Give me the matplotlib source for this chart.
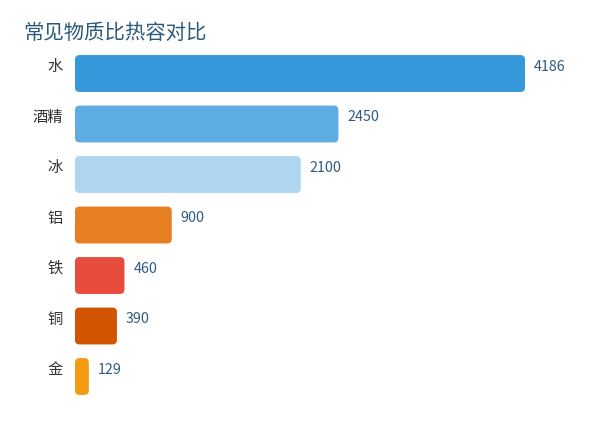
import matplotlib
matplotlib.use("Agg")
import matplotlib.pyplot as plt
from matplotlib.patches import FancyBboxPatch

plt.rcParams['font.family'] = ['Noto Sans CJK SC', 'DejaVu Sans']

# data
materials = ["水", "酒精", "冰", "铝", "铁", "铜", "金"]
heat_capacity = [4186, 2450, 2100, 900, 460, 390, 129]
bar_colors = ["#3498db", "#5dade2", "#aed6f1", "#e67e22", "#e74c3c", "#d35400", "#f39c12"]

W, H = 600, 448
fig = plt.figure(figsize=(6, 4.48), dpi=100)
ax = fig.add_axes([75 / W, 1 - 401.75 / H, 450 / W, (401.75 - 48.25) / H])

ypos = list(range(len(materials)))
bar_h = 0.73
bars = ax.barh(ypos, heat_capacity, height=bar_h, color=bar_colors)

ax.set_xlim(0, max(heat_capacity))
ax.set_ylim(len(materials) - 0.5, -0.5)

# swap the plain rectangles for rounded ones
px_x = 450 / max(heat_capacity)
px_y = (401.75 - 48.25) / len(materials)
radius = 4.5 / px_x
aspect = (4.5 / px_y) / radius
for b in bars:
    x0, y0 = b.get_x(), b.get_y()
    w, h = b.get_width(), b.get_height()
    r = min(radius, w / 2)
    p = FancyBboxPatch((x0, y0), w, h,
                       boxstyle="round,pad=0,rounding_size=%f" % r,
                       mutation_aspect=aspect * radius / r,
                       facecolor=b.get_facecolor(), edgecolor="none")
    b.remove()
    ax.add_patch(p)

for y, v, name in zip(ypos, heat_capacity, materials):
    ax.annotate(str(v), (v, y), xytext=(6.5, 5), textcoords="offset points",
                ha="left", va="center", fontsize=10.3, color="#2e5a7c")
    ax.annotate(name, (0, y), xytext=(-9, 5), textcoords="offset points",
                ha="right", va="center", fontsize=11, color="#333333",
                annotation_clip=False)

ax.set_xticks([])
ax.set_yticks([])
for s in ax.spines.values():
    s.set_visible(False)

fig.text(23.5 / W, 1 - 33 / H, "常见物质比热容对比", fontsize=14.7, color="#2c5a7a",
         ha="left", va="center")

fig.savefig("out.png", dpi=100)
